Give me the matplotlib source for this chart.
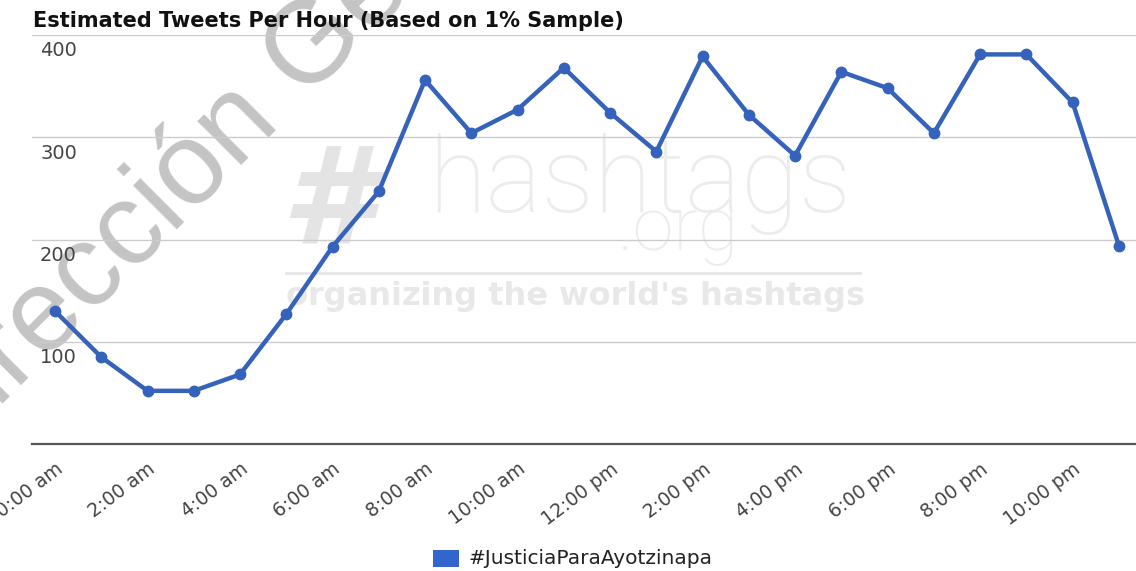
import matplotlib
matplotlib.use("Agg")
import matplotlib.pyplot as plt
import matplotlib.transforms as mtransforms
from matplotlib.patches import Rectangle

# chart values
hours = list(range(24))
tweets = [130, 85, 52, 52, 68, 127, 193, 247, 356, 304, 327, 368,
          324, 286, 379, 322, 282, 364, 348, 304, 381, 381, 334, 194]
tick_hours = list(range(0, 24, 2))
tick_labels = ["0:00 am", "2:00 am", "4:00 am", "6:00 am", "8:00 am", "10:00 am",
               "12:00 pm", "2:00 pm", "4:00 pm", "6:00 pm", "8:00 pm", "10:00 pm"]
y_ticks = [100, 200, 300, 400]
series_name = "#JusticiaParaAyotzinapa"
title = "Estimated Tweets Per Hour (Based on 1% Sample)"

plt.rcParams['font.family'] = ['DejaVu Sans']

W, H = 1136, 571
fig = plt.figure(figsize=(W / 100, H / 100), dpi=100)
fig.patch.set_facecolor('white')

# plot area: left 32px, baseline 444px, top 35px
ax = fig.add_axes([32 / W, 1 - 444 / H, (W - 32) / W, (444 - 35) / H])
ax.patch.set_alpha(0)

ax.plot(hours, tweets, color='#3562bb', lw=3.2, marker='o', ms=7.5,
        clip_on=False, zorder=5, solid_joinstyle='round')

ax.set_xlim(-0.497, 23.37)
ax.set_ylim(0, 400)
ax.set_yticks(y_ticks)
ax.yaxis.grid(True, color='#cccccc', lw=1)
ax.tick_params(axis='y', left=False, labelleft=False)
for s in ['left', 'right', 'top']:
    ax.spines[s].set_visible(False)
ax.spines['bottom'].set_color('#555555')
ax.spines['bottom'].set_linewidth(1.6)

# y labels sit just under each gridline, inside the plot
lab_off = mtransforms.ScaledTranslation(0, -16 / 100, fig.dpi_scale_trans)
ytrans = mtransforms.blended_transform_factory(fig.transFigure, ax.transData) + lab_off
for v in y_ticks:
    ax.text(40 / W, v, str(v), transform=ytrans, ha='left', va='center',
            fontsize=14, color='#444444')

ax.set_xticks(tick_hours)
ax.set_xticklabels(tick_labels, rotation=37, ha='right', va='top',
                   rotation_mode='anchor', fontsize=13.5, color='#444444')
ax.tick_params(axis='x', length=0, pad=11)
xoff = mtransforms.ScaledTranslation(0, 0, fig.dpi_scale_trans)
for lab in ax.get_xticklabels():
    lab.set_transform(lab.get_transform() + xoff)

fig.text(33 / W, 1 - 21 / H, title, ha='left', va='center', fontsize=15,
         fontweight='bold', color='#111111')

# legend
fig.patches.append(Rectangle((433 / W, 1 - 567 / H), 26 / W, 17 / H,
                             transform=fig.transFigure, facecolor='#3366cc',
                             edgecolor='none'))
fig.text(468 / W, 1 - 559 / H, series_name, ha='left', va='center',
         fontsize=14.5, color='#222222')

# watermarks
wm = '#e8e8e8'
fig.text(280 / W, 1 - 243 / H, '#', ha='left', va='baseline', fontsize=98,
         fontweight='bold', fontstyle='italic', color='#e4e4e4', zorder=-2)
fig.text(428 / W, 1 - 212 / H, 'hashtags', ha='left', va='baseline', fontsize=76,
         family='Roboto', fontweight='light', color='#ececec', zorder=-2)
fig.text(618 / W, 1 - 250 / H, '.org', ha='left', va='baseline', fontsize=53,
         family='Roboto', fontweight='light', color='#ececec', zorder=-2)
fig.add_artist(plt.Line2D([286 / W, 860 / W], [1 - 273 / H, 1 - 273 / H],
                          transform=fig.transFigure, color='#e6e6e6', lw=2, zorder=-2))
fig.text(286 / W, 1 - 305 / H, "organizing the world's hashtags", ha='left',
         va='baseline', fontsize=23, fontweight='bold', color=wm, zorder=-2)

fig.text(-62 / W, 1 - 468 / H, 'Dirección General de', ha='left', va='baseline',
         rotation=45, rotation_mode='anchor', fontsize=84, family='Liberation Sans',
         color='#c4c4c4', zorder=-1)

fig.savefig('out.png', dpi=100)
